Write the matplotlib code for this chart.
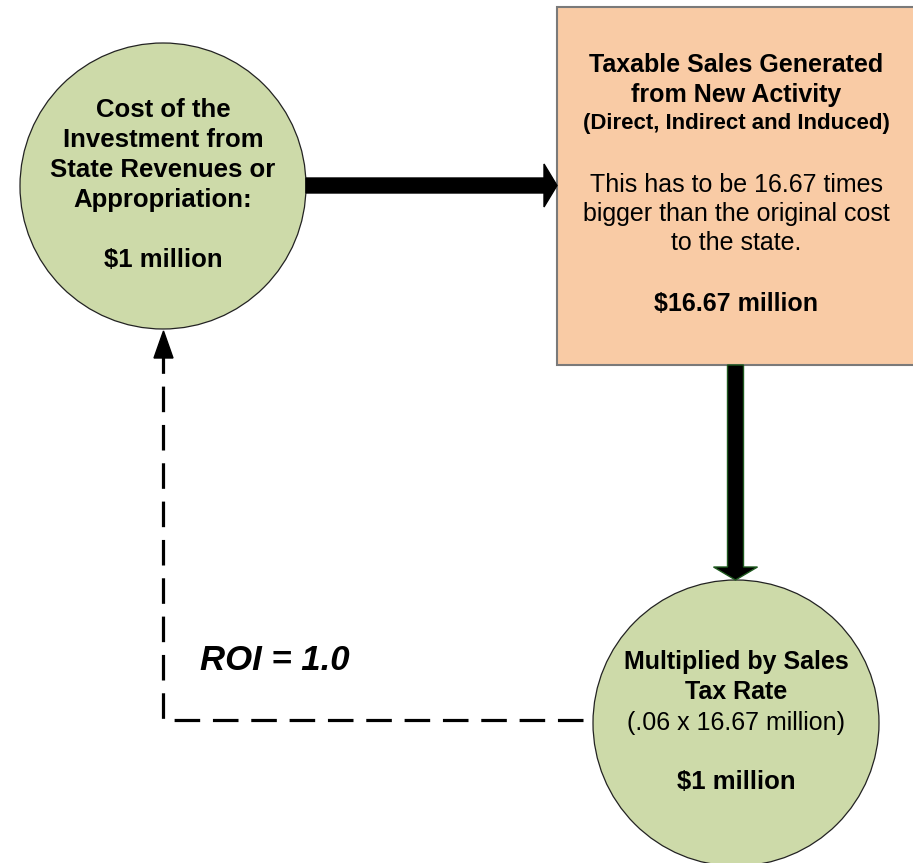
import matplotlib.pyplot as plt
from matplotlib.patches import Circle, Rectangle, FancyArrow, Polygon

# textos del diagrama
cost_lines = ["Cost of the", "Investment from", "State Revenues or", "Appropriation:"]
cost_value = "$1 million"
box_title = ["Taxable Sales Generated", "from New Activity"]
box_sub = "(Direct, Indirect and Induced)"
box_lines = ["This has to be 16.67 times", "bigger than the original cost", "to the state."]
box_value = "$16.67 million"
tax_title = ["Multiplied by Sales", "Tax Rate"]
tax_calc = "(.06 x 16.67 million)"
tax_value = "$1 million"
roi_label = "ROI = 1.0"

green = "#cddaa9"
peach = "#f9cba5"

plt.rcParams['font.family'] = ['Liberation Sans', 'DejaVu Sans']

fig = plt.figure(figsize=(9.13, 8.63), dpi=100)
ax = fig.add_axes([0, 0, 1, 1])
ax.set_xlim(0, 913)
ax.set_ylim(863, 0)
ax.axis("off")

# circulo de costo
ax.add_patch(Circle((163, 186), 143, facecolor=green, edgecolor="#222222", lw=0.9, zorder=2))
for i, t in enumerate(cost_lines):
    ax.text(163, 110 + 30 * i, t, ha="center", va="center", fontsize=18.5, fontweight="bold", zorder=5)
ax.text(163, 260, cost_value, ha="center", va="center", fontsize=18.5, fontweight="bold", zorder=5)

# caja de ventas
ax.add_patch(Rectangle((557, 7), 370, 358, facecolor=peach, edgecolor="#7a7a7a", lw=1.5, zorder=2))
for i, t in enumerate(box_title):
    ax.text(736, 65 + 30 * i, t, ha="center", va="center", fontsize=18, fontweight="bold", zorder=5)
ax.text(736, 124, box_sub, ha="center", va="center", fontsize=16, fontweight="bold", zorder=5)
for i, t in enumerate(box_lines):
    ax.text(736, 185 + 29 * i, t, ha="center", va="center", fontsize=18, zorder=5)
ax.text(736, 304, box_value, ha="center", va="center", fontsize=18, fontweight="bold", zorder=5)

# circulo de impuesto
ax.add_patch(Circle((736, 723), 143, facecolor=green, edgecolor="#222222", lw=0.9, zorder=2))
for i, t in enumerate(tax_title):
    ax.text(736, 662 + 30 * i, t, ha="center", va="center", fontsize=18, fontweight="bold", zorder=5)
ax.text(736, 723, tax_calc, ha="center", va="center", fontsize=18, zorder=5)
ax.text(736, 782, tax_value, ha="center", va="center", fontsize=18.5, fontweight="bold", zorder=5)

# flechas solidas
ax.add_patch(FancyArrow(306, 185.5, 251, 0, width=15, head_width=43, head_length=13,
                        length_includes_head=True, facecolor="black", edgecolor="black", zorder=3))
ax.add_patch(FancyArrow(735.5, 365, 0, 215, width=16, head_width=44, head_length=13,
                        length_includes_head=True, facecolor="black", edgecolor="#1f5a1f", lw=1, zorder=3))

# flecha punteada de retorno
ax.plot([583, 163, 163], [720, 720, 356], color="black", lw=2.3,
        dashes=(8, 4), solid_capstyle="butt", zorder=1)
ax.add_patch(Polygon([[154, 358], [173, 358], [163.5, 331]], closed=True, facecolor="black",
                     edgecolor="black", zorder=3))

ax.text(200, 660, roi_label, ha="left", va="center", fontsize=25, fontweight="bold",
        fontstyle="italic", zorder=5)

fig.savefig("out.png", dpi=100)
